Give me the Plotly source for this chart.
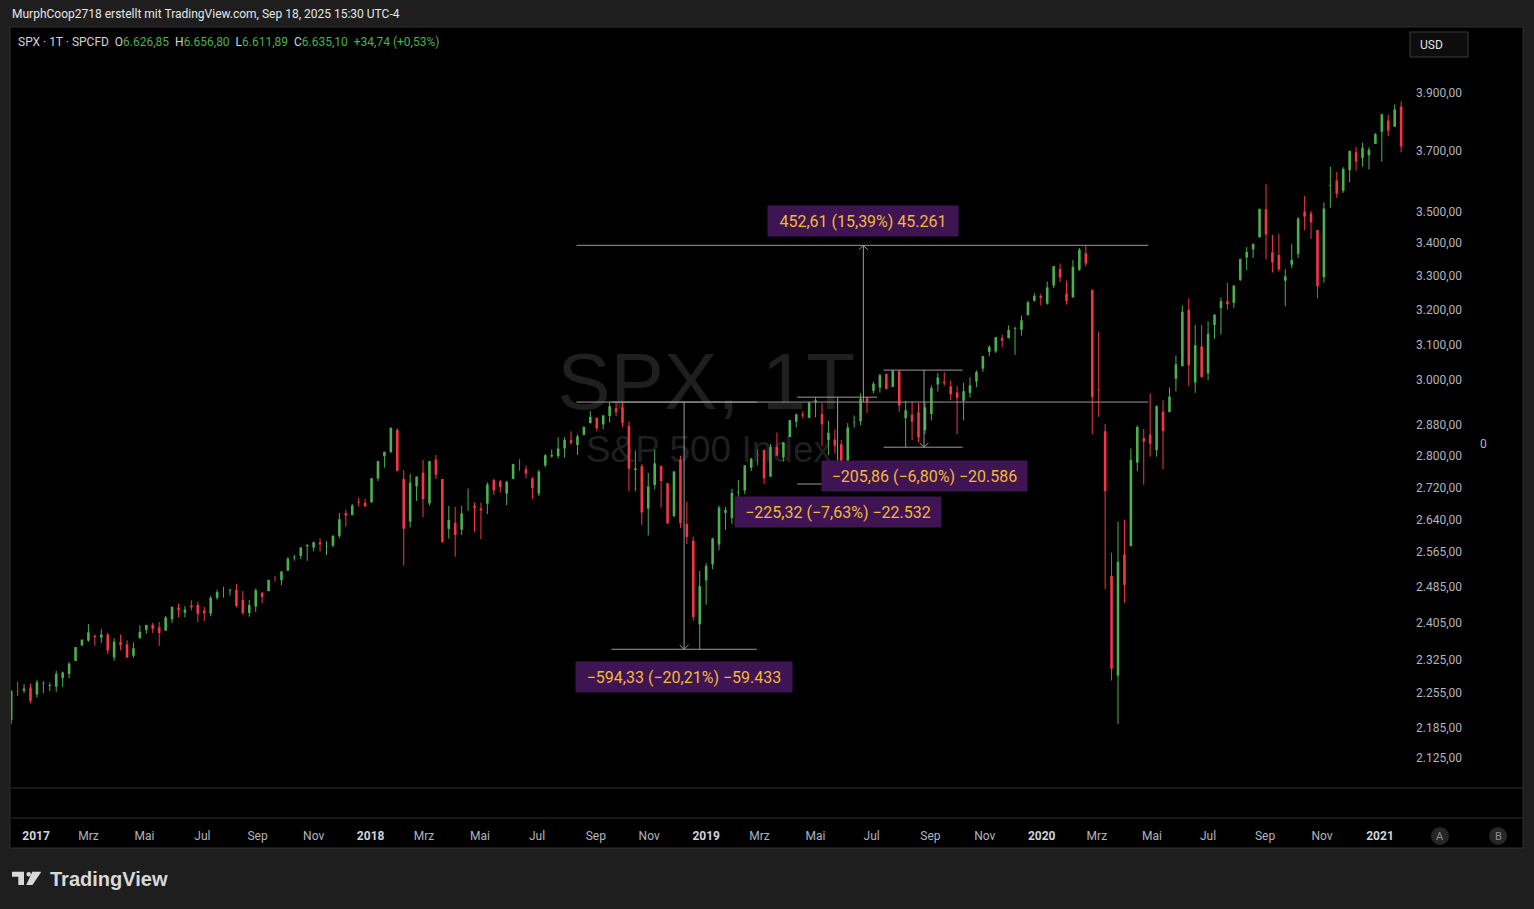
import math
import pandas as pd
import plotly.graph_objects as go

# ---------------- data: weekly SPX candles (week of 2016-12-05 .. week of 2021-01-25) ----------------
first_week_mid = "2016-12-07"

opens = [
    2200.2, 2258.8, 2259.2, 2266.2,
    # 2017
    2251.6, 2273.6, 2269.1, 2267.8, 2286.0,
    2294.3, 2321.7, 2354.9, 2365.2,
    2375.2, 2371.6, 2378.2, 2329.1,
    2362.3, 2357.2, 2332.6, 2370.3,
    2388.5, 2399.9, 2394.0, 2387.2, 2411.7,
    2437.8, 2425.9, 2442.5, 2443.3,
    2431.4, 2424.5, 2459.5, 2472.0, 2475.1,
    2477.1, 2454.9, 2425.5, 2440.1,
    2470.4, 2474.5, 2502.5, 2499.4,
    2521.2, 2551.4, 2555.6, 2578.1, 2575.0,
    2587.5, 2577.8, 2579.5, 2602.7,
    2657.2, 2652.2, 2685.9, 2682.1,
    # 2018
    2683.7, 2742.7, 2799.0, 2809.2, 2867.2,
    2741.1, 2636.8, 2723.0, 2757.4,
    2681.1, 2790.5, 2741.4, 2619.4,
    2633.5, 2617.2, 2670.1, 2675.4, 2668.7,
    2680.3, 2738.5, 2735.4, 2705.1,
    2741.7, 2780.2, 2765.8, 2742.9,
    2705.0, 2775.6, 2798.4, 2799.2, 2819.0,
    2840.3, 2827.9, 2853.9, 2884.7,
    2898.4, 2881.4, 2903.8, 2924.0,
    2926.3, 2877.5, 2763.8, 2773.9, 2667.9,
    2726.4, 2773.9, 2730.7, 2650.0,
    2790.5, 2630.9, 2590.8, 2400.6, 2498.9,
    # 2019
    2535.6, 2582.1, 2657.9, 2645.0,
    2706.5, 2712.4, 2770.0, 2804.4,
    2814.4, 2747.6, 2822.6, 2796.0,
    2848.6, 2888.5, 2908.3, 2898.8, 2940.6,
    2908.9, 2840.2, 2841.9, 2830.0,
    2751.5, 2885.8, 2889.8, 2951.4,
    2971.4, 2980.0, 3017.8, 2981.9, 3024.5,
    2898.1, 2907.1, 2913.5, 2866.7,
    2909.0, 2988.4, 2996.4, 2983.5, 2967.1,
    2944.2, 2965.8, 2996.5, 3032.1,
    3079.0, 3080.3, 3117.9, 3117.4,
    3143.9, 3141.9, 3183.6, 3226.1, 3240.1,
    # 2020
    3217.6, 3271.1, 3321.0, 3247.2,
    3235.7, 3318.3, 3369.0, 3257.6,
    2974.3, 2863.9, 2508.6, 2290.7, 2559.0,
    2578.3, 2782.5, 2845.6, 2854.7,
    2815.0, 2915.5, 2913.9, 3004.1,
    3038.8, 3199.9, 2993.8, 3094.4, 3018.6,
    3155.3, 3205.1, 3224.3, 3219.8,
    3288.3, 3356.0, 3380.9, 3418.1, 3507.4,
    3371.9, 3363.6, 3285.6, 3333.9,
    3367.3, 3500.0, 3493.5, 3441.4,
    3296.2, 3583.0, 3600.2, 3566.8, 3634.2,
    3694.7, 3675.3, 3684.3, 3723.0,
    # 2021
    3764.6, 3803.1, 3781.9, 3851.7,
]

highs = [
    2259.8, 2278.0, 2273.0, 2273.8,
    2282.1, 2279.3, 2276.1, 2301.0, 2299.4,
    2319.2, 2351.3, 2367.3, 2401.0,
    2378.8, 2390.0, 2382.0, 2370.4,
    2378.4, 2365.9, 2361.4, 2398.2,
    2399.3, 2403.9, 2405.8, 2418.7, 2440.2,
    2446.2, 2441.0, 2453.8, 2450.4,
    2439.2, 2463.5, 2477.6, 2484.0, 2480.4,
    2490.9, 2474.9, 2454.8, 2480.4,
    2472.6, 2500.2, 2508.9, 2519.4,
    2552.5, 2557.7, 2575.4, 2583.0, 2588.4,
    2597.0, 2590.1, 2605.0, 2657.7,
    2665.2, 2679.6, 2695.0, 2692.1,
    2743.4, 2787.9, 2810.3, 2872.9, 2870.6,
    2763.4, 2754.4, 2747.8, 2789.2,
    2786.6, 2802.0, 2741.4, 2674.8,
    2672.1, 2674.8, 2717.5, 2683.6, 2682.9,
    2732.9, 2742.1, 2739.2, 2736.9,
    2779.9, 2791.5, 2775.0, 2746.1,
    2764.4, 2804.5, 2816.3, 2848.0, 2848.1,
    2863.4, 2855.6, 2876.2, 2916.5,
    2900.2, 2907.0, 2940.9, 2939.9,
    2939.9, 2889.5, 2813.5, 2778.9, 2756.6,
    2815.2, 2776.0, 2730.7, 2760.9,
    2800.2, 2685.4, 2601.1, 2520.3, 2538.1,
    2597.8, 2675.5, 2672.4, 2716.7,
    2739.0, 2775.7, 2795.0, 2816.9,
    2816.9, 2830.7, 2860.3, 2836.0,
    2893.4, 2910.5, 2916.1, 2939.9, 2954.1,
    2937.3, 2891.3, 2868.0, 2840.5,
    2884.9, 2905.1, 2964.2, 2954.9,
    2996.0, 3017.8, 3017.8, 3028.0, 3028.0,
    2944.2, 2943.3, 2939.1, 2940.4,
    2985.9, 3020.0, 3022.0, 2999.2, 2983.9,
    2993.3, 3008.3, 3027.4, 3066.9,
    3097.8, 3120.5, 3127.6, 3154.3,
    3150.6, 3182.7, 3225.6, 3247.9, 3246.2,
    3283.0, 3329.9, 3337.8, 3285.9,
    3348.0, 3385.1, 3393.5, 3259.8,
    3136.7, 2882.6, 2563.0, 2637.0, 2641.4,
    2818.6, 2879.2, 2869.0, 2964.3,
    2932.2, 2945.8, 2980.3, 3068.7,
    3211.7, 3233.1, 3155.5, 3155.5, 3165.8,
    3186.8, 3235.3, 3279.3, 3272.0,
    3352.5, 3387.9, 3400.0, 3509.2, 3588.1,
    3425.6, 3428.9, 3320.3, 3397.2,
    3482.3, 3549.9, 3502.4, 3441.4,
    3529.1, 3646.0, 3628.5, 3644.3, 3699.2,
    3712.4, 3726.7, 3711.2, 3760.2,
    3826.7, 3823.6, 3859.8, 3870.9,
]

lows = [
    2191.1, 2248.4, 2254.3, 2233.6,
    2245.1, 2254.2, 2258.8, 2257.0, 2267.2,
    2285.4, 2321.7, 2352.9, 2362.6,
    2354.5, 2360.0, 2335.7, 2322.3,
    2344.5, 2328.9, 2328.2, 2370.3,
    2379.8, 2381.7, 2353.8, 2386.0, 2403.6,
    2415.7, 2415.6, 2431.3, 2405.7,
    2407.7, 2418.5, 2455.3, 2459.9, 2464.4,
    2437.8, 2421.5, 2417.4, 2428.2,
    2446.6, 2474.5, 2496.7, 2488.0,
    2521.2, 2544.4, 2547.9, 2544.0, 2566.2,
    2566.0, 2557.5, 2576.0, 2597.0,
    2624.8, 2652.2, 2673.6, 2673.6,
    2682.4, 2736.1, 2769.8, 2808.1, 2760.0,
    2532.7, 2622.5, 2687.0, 2647.3,
    2675.8, 2741.4, 2585.9, 2596.1,
    2553.8, 2605.0, 2662.8, 2612.7, 2594.6,
    2655.2, 2701.9, 2707.4, 2676.8,
    2740.5, 2761.6, 2742.9, 2692.0,
    2699.0, 2770.3, 2795.6, 2793.2, 2795.1,
    2828.5, 2802.5, 2853.0, 2884.7,
    2864.1, 2868.6, 2886.2, 2903.3,
    2874.0, 2710.5, 2710.7, 2628.2, 2603.5,
    2715.6, 2670.8, 2631.1, 2647.6,
    2621.5, 2583.2, 2408.6, 2346.6, 2444.0,
    2524.6, 2569.0, 2617.3, 2631.1,
    2687.3, 2704.1, 2761.2, 2775.1,
    2729.0, 2746.1, 2800.5, 2785.7,
    2848.6, 2873.3, 2898.0, 2898.0, 2900.5,
    2825.4, 2801.4, 2805.5, 2750.5,
    2728.8, 2873.4, 2879.4, 2912.3,
    2964.2, 2966.4, 2975.0, 2981.9, 2914.1,
    2822.1, 2840.6, 2835.0, 2856.0,
    2891.9, 2969.4, 2985.0, 2946.0, 2855.9,
    2892.1, 2952.9, 2981.3, 3023.2,
    3066.5, 3075.8, 3091.4, 3117.4,
    3070.3, 3124.8, 3183.6, 3223.3, 3212.0,
    3214.6, 3263.5, 3281.5, 3214.6,
    3235.7, 3315.2, 3328.5, 2855.8,
    2901.5, 2478.9, 2280.5, 2191.9, 2447.5,
    2578.3, 2761.0, 2727.1, 2797.8,
    2797.9, 2766.6, 2913.9, 2969.8,
    3038.8, 2984.5, 2965.7, 3007.0, 3000.0,
    3115.7, 3127.7, 3200.0, 3204.1,
    3284.5, 3317.4, 3354.7, 3418.1, 3349.6,
    3310.0, 3313.1, 3209.5, 3323.7,
    3354.5, 3440.5, 3413.6, 3233.9,
    3279.7, 3511.9, 3543.8, 3560.0, 3594.4,
    3633.4, 3645.8, 3636.5, 3723.0,
    3662.7, 3749.6, 3781.9, 3694.1,
]

closes = [
    2259.5, 2258.1, 2263.8, 2238.8,
    2277.0, 2274.6, 2271.3, 2294.7, 2297.4,
    2316.1, 2351.2, 2367.3, 2383.1,
    2372.6, 2378.3, 2344.0, 2362.7,
    2355.5, 2329.0, 2348.7, 2384.2,
    2399.3, 2390.9, 2381.7, 2415.8, 2439.1,
    2431.8, 2433.2, 2438.3, 2423.4,
    2425.2, 2459.3, 2472.5, 2472.1, 2476.8,
    2441.3, 2425.6, 2443.1, 2476.6,
    2461.4, 2500.2, 2502.2, 2519.4,
    2549.3, 2553.2, 2575.2, 2581.1, 2587.8,
    2582.3, 2578.9, 2602.4, 2642.2,
    2651.5, 2675.8, 2683.3, 2673.6,
    2743.2, 2786.2, 2810.3, 2872.9, 2762.1,
    2619.6, 2732.2, 2747.3, 2691.3,
    2786.6, 2752.0, 2588.3, 2640.9,
    2604.5, 2656.3, 2670.1, 2669.9, 2663.4,
    2727.7, 2713.0, 2721.3, 2734.6,
    2779.0, 2779.7, 2754.9, 2718.4,
    2759.8, 2801.3, 2801.8, 2818.8, 2840.4,
    2833.3, 2850.1, 2874.7, 2901.5,
    2871.7, 2905.0, 2929.7, 2914.0,
    2885.6, 2767.1, 2767.8, 2658.7, 2723.1,
    2781.0, 2736.3, 2632.6, 2760.2,
    2633.1, 2600.0, 2416.6, 2485.7, 2531.9,
    2596.3, 2670.7, 2664.8, 2706.5,
    2707.9, 2775.6, 2792.7, 2803.7,
    2743.1, 2822.5, 2800.7, 2834.4,
    2892.7, 2907.4, 2905.0, 2939.9, 2945.6,
    2881.4, 2859.5, 2826.1, 2752.1,
    2873.3, 2887.0, 2950.5, 2941.8,
    2990.4, 3013.8, 2976.6, 3025.9, 2932.1,
    2918.7, 2888.7, 2847.1, 2926.5,
    2978.7, 3007.4, 2992.1, 2961.8, 2952.0,
    2970.3, 2986.2, 3022.6, 3066.9,
    3093.1, 3120.5, 3110.3, 3141.0,
    3145.9, 3168.8, 3221.2, 3240.0, 3234.9,
    3265.4, 3329.6, 3295.5, 3225.5,
    3327.7, 3380.2, 3337.8, 2954.2,
    2972.4, 2711.0, 2304.9, 2541.5, 2488.7,
    2789.8, 2874.6, 2836.7, 2830.7,
    2929.8, 2863.7, 2955.5, 3044.3,
    3193.9, 3041.3, 3097.7, 3009.1, 3130.0,
    3185.0, 3224.7, 3215.6, 3271.1,
    3351.3, 3372.9, 3397.2, 3508.0, 3427.0,
    3341.0, 3319.5, 3298.5, 3348.4,
    3477.1, 3483.8, 3465.4, 3270.0,
    3509.4, 3585.2, 3557.5, 3638.4, 3699.1,
    3663.5, 3709.4, 3703.1, 3756.1,
    3824.7, 3768.3, 3841.5, 3714.2,
]

assert len(opens) == len(highs) == len(lows) == len(closes)
dates = pd.date_range(first_week_mid, periods=len(closes), freq="W-WED")

# price-axis ticks
price_ticks = [3900, 3700, 3500, 3400, 3300, 3200, 3100, 3000, 2880, 2800,
               2720, 2640, 2565, 2485, 2405, 2325, 2255, 2185, 2125]

# time-axis ticks
time_tick_dates = ["2017-01-03", "2017-03-01", "2017-05-01", "2017-07-03", "2017-09-01", "2017-11-01",
                   "2018-01-02", "2018-03-01", "2018-05-01", "2018-07-02", "2018-09-04", "2018-11-01",
                   "2019-01-02", "2019-03-01", "2019-05-01", "2019-07-01", "2019-09-03", "2019-11-01",
                   "2020-01-02", "2020-03-02", "2020-05-01", "2020-07-01", "2020-09-01", "2020-11-02",
                   "2021-01-04"]
time_tick_labels = ["2017", "Mrz", "Mai", "Jul", "Sep", "Nov",
                    "2018", "Mrz", "Mai", "Jul", "Sep", "Nov",
                    "2019", "Mrz", "Mai", "Jul", "Sep", "Nov",
                    "2020", "Mrz", "Mai", "Jul", "Sep", "Nov",
                    "2021"]

# measurement drawings: (start price, end price, line start date, line end date, arrow date, label price)
measures = [
    (2940.91, 3393.52, "2018-08-14", "2020-04-27", "2019-06-22", 3470),
    (2940.91, 2346.58, "2018-09-21", "2019-02-26", "2018-12-09", 2288),
    (2954.13, 2728.81, "2019-04-11", "2019-07-07", "2019-05-25", 2660),
    (3027.98, 2822.12, "2019-07-14", "2019-10-08", "2019-08-27", 2750),
]
measure_label_widths = [190, 216, 206, 205]

legend_values = {"O": "6.626,85", "H": "6.656,80", "L": "6.611,89", "C": "6.635,10"}
legend_change = "+34,74 (+0,53%)"

# ---------------- styling ----------------
GREEN = "#4caf50"
RED = "#f23645"
AXIS_TXT = "#b2b5be"
DRAW_LINE = "#9a9a9a"
BOX_BG = "#3e1552"
BOX_TXT = "#f3b73c"
FONT = "Roboto"
BODY_W = 2.6
WICK_W = 1

W, H = 1534, 909
PL, PR, PT, PB = 11, 1405, 27, 788


def px(x):
    return (x - PL) / (PR - PL)


def py(y):
    return (PB - y) / (PB - PT)


def de(v, dec=2):
    s = f"{v:,.{dec}f}"
    return s.replace(",", "X").replace(".", ",").replace("X", ".")


X_RANGE = ["2016-12-06 19:00", "2021-01-31 05:00"]
Y_RANGE = [3.31541, 3.61724]
PX_PER_DAY = 0.9193
PX_PER_LOG10 = 2521.3

fig = go.Figure()

# watermark (below candles)
fig.add_trace(go.Scatter(x=["2019-01-02"], y=[2976], mode="text", text=["SPX, 1T"],
                         textfont=dict(family="Liberation Sans", size=80, color="#1f1f1f"),
                         hoverinfo="skip"))
fig.add_trace(go.Scatter(x=["2019-01-05"], y=[2808], mode="text", text=["S&P 500 Index"],
                         textfont=dict(family="Liberation Sans", size=37, color="#1f1f1f"),
                         hoverinfo="skip"))

# candles drawn as wick + body segments, coloured by direction
for up, col in ((True, GREEN), (False, RED)):
    wx, wy, bx, by = [], [], [], []
    for d, o, hi, lo, c in zip(dates, opens, highs, lows, closes):
        if (c >= o) != up:
            continue
        wx += [d, d, None]
        wy += [lo, hi, None]
        bx += [d, d, None]
        by += [o, c, None]
    fig.add_trace(go.Scatter(x=wx, y=wy, mode="lines", line=dict(color=col, width=WICK_W),
                             hoverinfo="skip", connectgaps=False))
    fig.add_trace(go.Scatter(x=bx, y=by, mode="lines", line=dict(color=col, width=BODY_W),
                             hoverinfo="skip", connectgaps=False))

# measurement lines
lx, ly = [], []
ax_, ay_ = [], []
dd = pd.Timedelta(days=4.5 / PX_PER_DAY)
fac = 10 ** (4.5 / PX_PER_LOG10)
for p0, p1, d0, d1, da, _ in measures:
    for p in (p0, p1):
        lx += [d0, d1, None]
        ly += [p, p, None]
    lx += [da, da, None]
    ly += [p0, p1, None]
    t = pd.Timestamp(da)
    back = fac if p1 < p0 else 1 / fac
    ax_ += [t - dd, t, t + dd, None]
    ay_ += [p1 * back, p1, p1 * back, None]
fig.add_trace(go.Scatter(x=lx, y=ly, mode="lines", line=dict(color=DRAW_LINE, width=1),
                         hoverinfo="skip", connectgaps=False))
fig.add_trace(go.Scatter(x=ax_, y=ay_, mode="lines", line=dict(color=DRAW_LINE, width=1),
                         hoverinfo="skip", connectgaps=False))

annotations = []
for (p0, p1, d0, d1, da, lp), wbox in zip(measures, measure_label_widths):
    d = p1 - p0
    pct = d / p0 * 100
    sign = "" if d >= 0 else "\u2212"
    txt = f"{sign}{de(abs(d))} ({sign}{de(abs(pct))}%) {sign}{de(abs(d) * 100, 0)}"
    annotations.append(dict(x=da, y=math.log10(lp), xref="x", yref="y", text=txt, showarrow=False,
                            bgcolor=BOX_BG, width=wbox, height=30, borderpad=0,
                            font=dict(family=FONT, size=16, color=BOX_TXT),
                            xanchor="center", yanchor="middle"))

# header and legend
annotations.append(dict(x=px(10), y=py(14), xref="paper", yref="paper", xanchor="left", yanchor="middle",
                        showarrow=False, text="MurphCoop2718 erstellt mit TradingView.com, Sep 18, 2025 15:30 UTC-4",
                        font=dict(family=FONT, size=12, color="#e6e6e6")))
leg = "SPX \u00b7 1T \u00b7 SPCFD\u00a0\u00a0"
for k, v in legend_values.items():
    leg += f"{k}<span style='color:{GREEN}'>{v}</span>\u00a0\u00a0"
leg += f"<span style='color:{GREEN}'>{legend_change}</span>"
annotations.append(dict(x=px(16), y=py(42), xref="paper", yref="paper", xanchor="left", yanchor="middle",
                        showarrow=False, text=leg, font=dict(family=FONT, size=12, color="#d1d4dc")))
annotations.append(dict(x=px(1418), y=py(45), xref="paper", yref="paper", xanchor="left", yanchor="middle",
                        showarrow=False, text="USD", font=dict(family=FONT, size=12, color="#e0e0e0")))
annotations.append(dict(x=px(1483), y=py(444), xref="paper", yref="paper", xanchor="center", yanchor="middle",
                        showarrow=False, text="0", font=dict(family=FONT, size=12, color=AXIS_TXT)))
for cx, lab in ((1440, "A"), (1498, "B")):
    annotations.append(dict(x=px(cx), y=py(836), xref="paper", yref="paper", xanchor="center", yanchor="middle",
                            showarrow=False, text=lab, font=dict(family=FONT, size=11, color="#8a8d94")))
annotations.append(dict(x=px(48), y=py(879), xref="paper", yref="paper", xanchor="left", yanchor="middle",
                        showarrow=False, text="<b>TradingView</b>",
                        font=dict(family="Liberation Sans", size=20, color="#d9d9d9")))

shapes = [
    dict(type="rect", xref="paper", yref="paper", x0=px(10), x1=px(1523), y0=py(848), y1=py(27),
         fillcolor="#000000", line=dict(color="#2f2f2f", width=1), layer="below"),
    dict(type="line", xref="paper", yref="paper", x0=px(11), x1=px(1522), y0=py(788), y1=py(788),
         line=dict(color="#303030", width=1)),
    dict(type="line", xref="paper", yref="paper", x0=px(11), x1=px(1522), y0=py(818), y1=py(818),
         line=dict(color="#303030", width=1)),
    dict(type="rect", xref="paper", yref="paper", x0=px(1410), x1=px(1468), y0=py(57), y1=py(32),
         fillcolor="#0d0d0d", line=dict(color="#3a3a3a", width=1)),
]
for cx in (1440, 1498):
    shapes.append(dict(type="circle", xref="paper", yref="paper", x0=px(cx - 9), x1=px(cx + 9),
                       y0=py(845), y1=py(827), fillcolor="#262626", line=dict(width=0), layer="below"))


def path(pts):
    return "M " + " L ".join(f"{px(a):.5f},{py(b):.5f}" for a, b in pts) + " Z"


logo_col = "#d9d9d9"
shapes.append(dict(type="path", xref="paper", yref="paper",
                   path=path([(12, 871.7), (24, 871.7), (24, 885), (18.3, 885), (18.3, 876.7), (12, 876.7)]),
                   fillcolor=logo_col, line=dict(width=0)))
shapes.append(dict(type="circle", xref="paper", yref="paper", x0=px(26.4), x1=px(31), y0=py(876.6), y1=py(872),
                   fillcolor=logo_col, line=dict(width=0)))
shapes.append(dict(type="path", xref="paper", yref="paper",
                   path=path([(32.3, 871.7), (41.3, 871.7), (32.5, 885), (26.2, 885)]),
                   fillcolor=logo_col, line=dict(width=0)))

tick_text = []
for lab in time_tick_labels:
    if lab.isdigit():
        tick_text.append(f"<span style='color:#d1d4dc'><b>{lab}</b></span>")
    else:
        tick_text.append(lab)

fig.update_layout(
    width=W, height=H, autosize=False,
    margin=dict(l=PL, r=W - PR, t=PT, b=H - PB, pad=0),
    paper_bgcolor="#1e1e1e", plot_bgcolor="#000000",
    showlegend=False, hovermode=False,
    font=dict(family=FONT, size=12, color=AXIS_TXT),
    annotations=annotations, shapes=shapes,
    xaxis=dict(type="date", range=X_RANGE, showgrid=False,
               zeroline=False, showline=False, tickmode="array", tickvals=time_tick_dates,
               ticktext=tick_text, ticks="", ticklabelstandoff=39,
               tickfont=dict(family=FONT, size=12, color=AXIS_TXT)),
    yaxis=dict(type="log", range=Y_RANGE, side="right", showgrid=False, zeroline=False, showline=False,
               tickmode="array", tickvals=price_ticks, ticktext=[de(v) for v in price_ticks],
               ticks="", ticklabelstandoff=10, tickfont=dict(family=FONT, size=12, color=AXIS_TXT)),
)

fig.write_html("out.html", config={"displayModeBar": False},
               post_script="document.body.style.margin='0';document.body.style.overflow='hidden';")
